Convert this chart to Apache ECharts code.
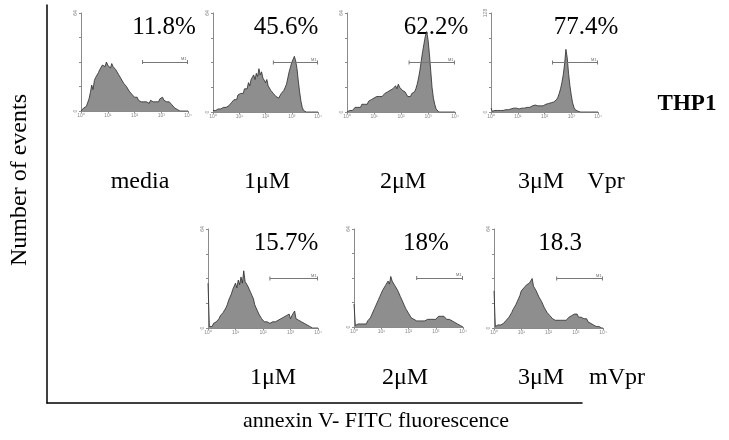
<!DOCTYPE html>
<html><head><meta charset="utf-8">
<script src="https://cdn.jsdelivr.net/npm/echarts@6/dist/echarts.min.js"></script>
<style>html,body{margin:0;padding:0;background:#fff}#c{width:729px;height:440px}</style>
</head><body><div id="c"></div>
<script>
// fluorescence channel positions (log10 decades)
const bins = [0,0.05,0.1,0.15,0.2,0.25,0.3,0.35,0.4,0.45,0.5,0.55,0.6,0.65,0.7,0.75,0.8,0.85,0.9,0.95,
  1,1.05,1.1,1.15,1.2,1.25,1.3,1.35,1.4,1.45,1.5,1.55,1.6,1.65,1.7,1.75,1.8,1.85,1.9,1.95,
  2,2.05,2.1,2.15,2.2,2.25,2.3,2.35,2.4,2.45,2.5,2.55,2.6,2.65,2.7,2.75,2.8,2.85,2.9,2.95,
  3,3.05,3.1,3.15,3.2,3.25,3.3,3.35,3.4,3.45,3.5,3.55,3.6,3.65,3.7,3.75,3.8,3.85,3.9,3.95,4];
const xTickLabels = ['10\u2070','10\u00b9','10\u00b2','10\u00b3','10\u2074'];

// event counts per panel
const vprMedia = [0,1,2,1,3,4,8,12,17,14,20,22,21,25,27,26,30,31,29,32,
  30,31,28,31,29,30,27,28,24,25,21,22,18,19,16,17,13,14,11,10,
  9,8,9,7,8,6,7,6,7,6,6,5,7,6,6,7,6,7,6,8,
  7,9,7,8,6,7,6,5,4,4,2,2,1,1,0,0,0,0,0,0,0];
const vpr1 = [1,0,1,1,2,1,2,2,3,2,3,4,4,5,6,6,8,9,8,11,
  10,12,13,12,15,16,15,19,17,21,20,24,21,25,23,28,24,26,22,23,
  19,21,17,18,14,15,12,13,10,11,9,10,12,11,14,16,18,22,26,29,
  32,33,36,33,28,20,13,7,3,1,1,0,0,0,0,0,0,0,0,0,0];
const vpr2 = [0,1,1,2,1,2,3,2,3,4,3,5,4,5,6,5,7,6,8,7,
  9,8,10,9,10,11,10,11,12,11,13,12,14,13,15,14,17,15,18,16,
  17,14,15,13,12,10,11,10,12,11,13,15,18,22,27,33,39,44,49,52,
  47,38,27,16,9,5,2,1,0,0,0,0,0,0,0,0,0,0,0,0,0];
const vpr3 = [5,1,1,2,1,2,2,2,3,2,3,3,4,3,4,4,3,5,4,5,
  5,4,6,5,6,5,7,6,8,6,7,8,7,9,7,8,9,8,10,8,
  9,10,9,11,10,12,11,13,14,16,19,24,30,38,48,62,81,70,50,34,
  22,12,6,3,2,1,0,0,0,0,0,0,0,0,0,0,0,0,0,0,0];
const mvpr1 = [29,1,2,1,3,2,4,5,6,8,7,10,11,13,15,18,20,22,25,24,
  29,26,31,28,33,29,37,30,31,27,28,23,21,19,15,14,11,9,8,6,
  5,4,3,4,3,3,2,4,3,4,3,5,4,6,5,7,6,8,7,9,
  6,8,7,11,6,7,5,6,4,5,3,3,2,2,1,1,0,0,0,0,0];
const mvpr2 = [15,1,1,2,1,2,1,2,3,2,4,5,6,8,9,12,14,16,18,20,
  22,24,25,27,26,30,28,33,30,31,27,28,24,23,20,19,16,14,12,11,
  9,8,6,6,5,4,4,3,4,3,4,3,4,3,5,4,5,4,5,6,
  5,6,7,6,7,6,7,6,5,6,5,4,4,3,3,2,2,1,1,0,0];
const mvpr3 = [24,1,1,2,2,2,3,3,4,5,6,7,8,10,12,13,15,17,19,21,
  24,23,26,25,28,27,29,28,32,27,26,24,23,20,19,17,15,13,12,10,
  9,8,7,6,5,5,4,5,4,5,4,5,6,5,6,7,6,8,7,9,
  8,9,7,8,7,8,6,5,6,4,4,3,3,2,2,1,1,1,0,0,0];

const panelCounts = [vprMedia, vpr1, vpr2, vpr3, mvpr1, mvpr2, mvpr3];
const yMaxes = [64, 64, 64, 128, 64, 64, 64];
const gateStart = [2.3, 2.3, 2.3, 2.3, 2.25, 2.3, 2.3];
const percentLabels = ['11.8%','45.6%','62.2%','77.4%','15.7%','18%','18.3'];
const vprLabels = ['media','1\u03bcM','2\u03bcM','3\u03bcM','Vpr'];
const mvprLabels = ['1\u03bcM','2\u03bcM','3\u03bcM','mVpr'];
const cellLine = 'THP1';
const yTitle = 'Number of events';
const xTitle = 'annexin V- FITC fluorescence';

// layout (pixels)
const gridBoxes = [
  {left:81, top:13, width:107, height:98},
  {left:213, top:13, width:105, height:99},
  {left:347, top:13, width:108, height:99},
  {left:491, top:13, width:107, height:99},
  {left:208, top:229, width:110, height:99},
  {left:354, top:229, width:109, height:98},
  {left:494, top:229, width:109, height:99}
];
const pctPos = [[164,27],[286,27],[436,27],[586,27],[286,243],[426,243],[560,243]];
const row1Pos = [[140,182],[267,182],[403,182],[541,182],[606,182]];
const row2Pos = [[273,378],[405,378],[541,378],[617,378]];

const serif = '"Liberation Serif","Times New Roman",serif';
const grids = [], xAxes = [], yAxes = [], series = [];
gridBoxes.forEach((b, i) => {
  grids.push(Object.assign({containLabel:false}, b));
  xAxes.push({type:'value', gridIndex:i, min:0, max:4, interval:1,
    axisLine:{lineStyle:{color:'#8a8a8a', width:1}},
    axisTick:{show:true, length:2, lineStyle:{color:'#8a8a8a'}},
    axisLabel:{fontSize:5, color:'#888', margin:2, formatter:(v)=>xTickLabels[Math.round(v)]},
    splitLine:{show:false}});
  yAxes.push({type:'value', gridIndex:i, min:0, max:yMaxes[i], interval:yMaxes[i]/4,
    axisLine:{show:true, lineStyle:{color:'#8a8a8a', width:1}},
    axisTick:{show:true, length:2, lineStyle:{color:'#8a8a8a'}},
    axisLabel:{fontSize:5, color:'#888', margin:3, rotate:90,
      formatter:(v)=> (v===0||v===yMaxes[i]) ? String(v) : ''},
    splitLine:{show:false}});
  const y0 = yMaxes[i] * 0.5;
  series.push({type:'line', xAxisIndex:i, yAxisIndex:i, symbol:'none',
    data: bins.map((x, k) => [x, panelCounts[i][k]]),
    lineStyle:{color:'#2a2a2a', width:0.8},
    areaStyle:{color:'#8e8e8e', opacity:1},
    silent:true, animation:false,
    markLine:{silent:true, symbol:['rect','rect'], symbolSize:[4,1],
      lineStyle:{color:'#777', width:1, type:'solid'},
      label:{show:true, formatter:'M1', position:'insideEndTop', fontSize:4, color:'#666', distance:1},
      data:[[{coord:[gateStart[i], y0]}, {coord:[3.98, y0]}]]}});
});
// outer frame axes
grids.push({left:47, top:5, width:535, height:398});
xAxes.push({type:'value', gridIndex:7, min:0, max:1, axisLine:{lineStyle:{color:'#000', width:1.5}},
  axisTick:{show:false}, axisLabel:{show:false}, splitLine:{show:false}});
yAxes.push({type:'value', gridIndex:7, min:0, max:1, axisLine:{show:true, lineStyle:{color:'#000', width:1.5}},
  axisTick:{show:false}, axisLabel:{show:false}, splitLine:{show:false}});

const texts = [];
percentLabels.forEach((t, i) => texts.push({type:'text', x:pctPos[i][0], y:pctPos[i][1],
  style:{text:t, font:'25px '+serif, fill:'#000', align:'center', verticalAlign:'middle'}}));
vprLabels.forEach((t, i) => texts.push({type:'text', x:row1Pos[i][0], y:row1Pos[i][1],
  style:{text:t, font:'24px '+serif, fill:'#000', align:'center', verticalAlign:'middle'}}));
mvprLabels.forEach((t, i) => texts.push({type:'text', x:row2Pos[i][0], y:row2Pos[i][1],
  style:{text:t, font:'24px '+serif, fill:'#000', align:'center', verticalAlign:'middle'}}));
texts.push({type:'text', x:687, y:104, style:{text:cellLine, font:'bold 23px '+serif, fill:'#000', align:'center', verticalAlign:'middle'}});
texts.push({type:'text', x:376, y:421, style:{text:xTitle, font:'22px '+serif, fill:'#000', align:'center', verticalAlign:'middle'}});
texts.push({type:'text', x:20, y:180, rotation:Math.PI/2, style:{text:yTitle, font:'24px '+serif, fill:'#000', align:'center', verticalAlign:'middle'}});

const chart = echarts.init(document.getElementById('c'), null, {renderer:'canvas'});
chart.setOption({animation:false, grid:grids, xAxis:xAxes, yAxis:yAxes, series:series, graphic:{elements:texts}});
</script></body></html>
